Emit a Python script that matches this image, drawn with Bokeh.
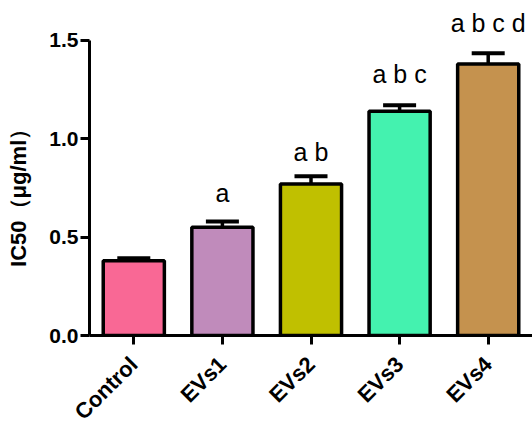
from bokeh.plotting import figure
from bokeh.models import (ColumnDataSource, Whisker, TeeHead, FixedTicker, Range1d,
                          FactorRange, PrintfTickFormatter)
from bokeh.core.properties import value
from bokeh.embed import file_html
from bokeh.resources import INLINE
import math

# ---- data ----
categories = ["Control", "EVs1", "EVs2", "EVs3", "EVs4"]
means = [0.38, 0.55, 0.77, 1.14, 1.38]
errors = [0.013, 0.03, 0.04, 0.03, 0.055]
colors = ["#F96895", "#C08BBB", "#C0C000", "#44F2AF", "#C5924E"]
sig_labels = ["", "a", "a b", "a b c", "a b c d"]
sig_y = [0.0, 0.68, 0.885, 1.283, 1.542]
y_ticks = [0.0, 0.5, 1.0, 1.5]

upper = [m + e for m, e in zip(means, errors)]
src = ColumnDataSource(dict(x=categories, top=means, upper=upper, color=colors))
lab_src = ColumnDataSource(dict(x=categories[1:], y=sig_y[1:], text=sig_labels[1:]))

p = figure(x_range=FactorRange(*categories, range_padding=0), y_range=Range1d(0, 1.642),
           frame_width=443, frame_height=323, output_backend="svg", toolbar_location=None,
           min_border_left=89, min_border_right=0, min_border_top=12, min_border_bottom=0)

p.vbar(x="x", top="top", width=0.69, source=src, fill_color="color",
       line_color="black", line_width=3.5)

wh = Whisker(source=src, base="x", lower="top", upper="upper", dimension="height",
             line_color="black", line_width=3.5,
             upper_head=TeeHead(size=33, line_width=4, line_color="black"),
             lower_head=None)
p.add_layout(wh)

p.text(x="x", y="y", text="text", source=lab_src, text_align="center",
       text_baseline="alphabetic", y_offset=-9, text_font=value("Liberation Sans"),
       text_font_size="25px", text_color="black")

p.outline_line_color = None
p.grid.visible = False
p.background_fill_color = "white"
p.border_fill_color = "white"

ya = p.yaxis[0]
ya.ticker = FixedTicker(ticks=y_ticks)
ya.formatter = PrintfTickFormatter(format="%.1f")
ya.bounds = (0, 1.5)
ya.minor_tick_line_color = None
ya.major_tick_in = 0
ya.major_tick_out = 9
ya.major_tick_line_width = 3
ya.axis_line_width = 3
ya.major_label_text_font = "Liberation Sans"
ya.major_label_text_font_style = "bold"
ya.major_label_text_font_size = "21px"
ya.major_label_text_color = "black"
ya.major_label_standoff = 2
ya.axis_label = "IC50（μg/ml）" + "\u00a0" * 6
ya.axis_label_text_font = "Liberation Sans"
ya.axis_label_text_font_style = "bold"
ya.axis_label_text_font_size = "22px"
ya.axis_label_standoff = 15
ya.axis_label_text_color = "black"

xa = p.xaxis[0]
xa.major_tick_in = 0
xa.major_tick_out = 9
xa.major_tick_line_width = 3
xa.axis_line_width = 3
xa.major_label_text_font = "Liberation Sans"
xa.major_label_text_font_style = "bold"
xa.major_label_text_font_size = "22px"
xa.major_label_text_color = "black"
xa.major_label_orientation = math.pi / 4
xa.major_label_standoff = 16

open("out.html", "w").write(file_html(p, INLINE))
